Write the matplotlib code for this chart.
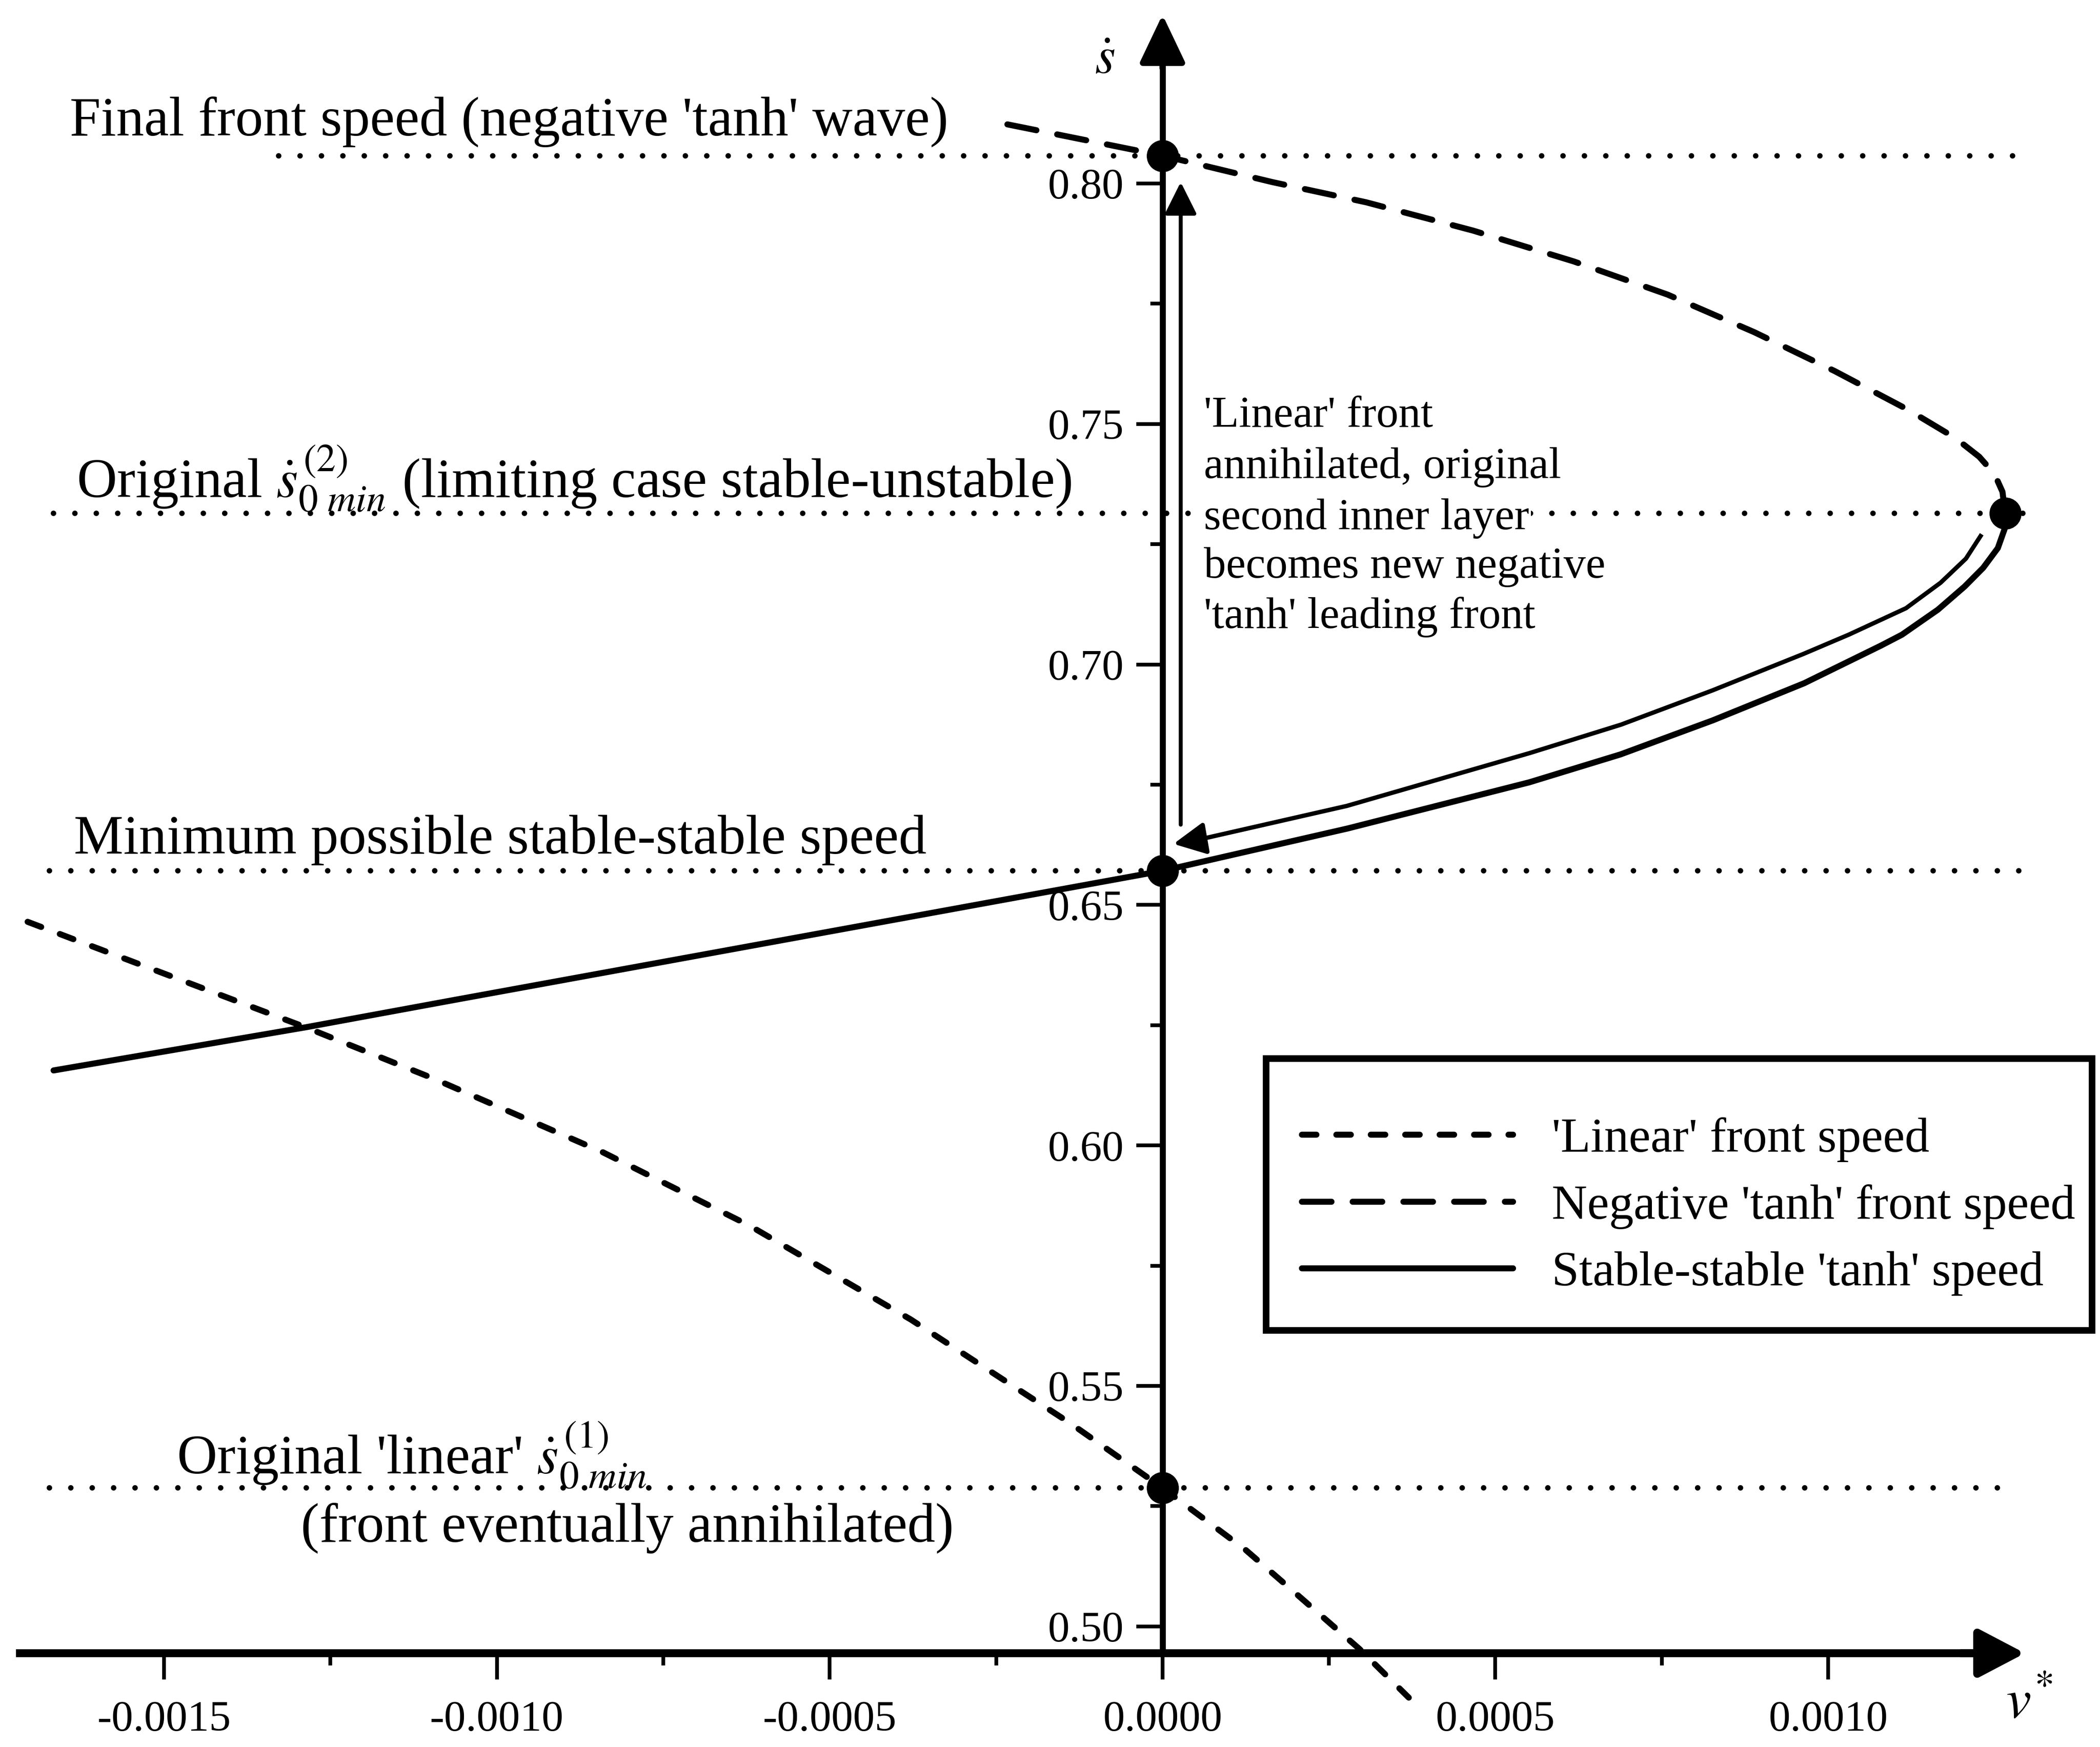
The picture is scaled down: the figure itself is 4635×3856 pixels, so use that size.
import matplotlib
matplotlib.use("Agg")
import matplotlib.pyplot as plt
from matplotlib.patches import Rectangle
from matplotlib.ticker import FixedLocator, FormatStrFormatter

plt.rcParams['font.family'] = ['Liberation Serif', 'DejaVu Serif']
plt.rcParams['mathtext.fontset'] = 'stix'
plt.rcParams['axes.unicode_minus'] = False

# ---- data -------------------------------------------------------------
# 'Linear' front speed
linear_v = [-0.001705, -0.001286, -0.001095, -0.000841, -0.000620, -0.000378,
            -0.000137, 0.0, 0.000125, 0.000195, 0.000296, 0.000370]
linear_s = [0.6465, 0.6245, 0.6139, 0.5986, 0.5833, 0.5638,
            0.5421, 0.5288, 0.5159, 0.5075, 0.4953, 0.4852]

# Negative 'tanh' front speed (upper branch ending at the turning point)
neg_v = [-0.000233, 0.0, 0.000165, 0.000306, 0.000467, 0.000618, 0.000759,
         0.000889, 0.001010, 0.001121, 0.001191, 0.001227, 0.001250,
         0.001262, 0.001266]
neg_s = [0.8123, 0.8058, 0.8003, 0.7961, 0.7902, 0.7838, 0.7769,
         0.7691, 0.7610, 0.7529, 0.7471, 0.7432, 0.7396,
         0.7359, 0.7314]

# Stable-stable 'tanh' speed (lower branch up to the turning point)
stable_v = [-0.001666, -0.001286, -0.001066, 0.0, 0.000278, 0.000551, 0.000688,
            0.000827, 0.000964, 0.001079, 0.001111, 0.001165, 0.001205,
            0.001233, 0.001255, 0.001265, 0.001266]
stable_s = [0.6156, 0.6246, 0.6302, 0.6571, 0.6659, 0.6755, 0.6813,
            0.6884, 0.6961, 0.7039, 0.7062, 0.7114, 0.7162,
            0.7201, 0.7242, 0.7281, 0.7314]

# Reference speed levels and marked points
level_s = [0.8058, 0.7314, 0.6571, 0.5288]
mark_v = [0.0, 0.001266, 0.0, 0.0]
mark_s = [0.8058, 0.7314, 0.6571, 0.5288]

# Path of the curved arrow running back down the stable-stable branch
path_v = [0.001229, 0.001207, 0.001169, 0.001117, 0.001031, 0.000963, 0.000826,
          0.000689, 0.000552, 0.000277, 0.000058, 0.0000165]
path_s = [0.7267, 0.7220, 0.7170, 0.7117, 0.7062, 0.7022, 0.6946,
          0.6875, 0.6816, 0.6706, 0.6637, 0.6627]

x_major = [-0.0015, -0.0010, -0.0005, 0.0, 0.0005, 0.0010]
x_minor = [-0.00125, -0.00075, -0.00025, 0.00025, 0.00075]
y_major = [0.50, 0.55, 0.60, 0.65, 0.70, 0.75, 0.80]
y_minor = [0.525, 0.575, 0.625, 0.675, 0.725, 0.775]

# ---- figure ------------------------------------------------------------
fig = plt.figure(figsize=(4635 / 300, 3856 / 300), dpi=300)
ax = fig.add_axes([0, 0, 1, 1])
ax.set_xlim(-0.0017465, 0.0014085)
ax.set_ylim(0.47493, 0.83816)
ax.patch.set_alpha(0)

axis_s = 0.49443      # height of the horizontal axis
x_left, x_tip = -0.0017163, 0.0012958
y_tip = 0.8351

for side in ('top', 'right'):
    ax.spines[side].set_visible(False)
ax.spines['left'].set_position(('data', 0.0))
ax.spines['bottom'].set_position(('data', axis_s))
ax.spines['left'].set_bounds(axis_s, 0.828)
ax.spines['bottom'].set_bounds(x_left, 0.00124)
ax.spines['left'].set_linewidth(3.2)
ax.spines['bottom'].set_linewidth(4.2)

ax.xaxis.set_major_locator(FixedLocator(x_major))
ax.xaxis.set_minor_locator(FixedLocator(x_minor))
ax.yaxis.set_major_locator(FixedLocator(y_major))
ax.yaxis.set_minor_locator(FixedLocator(y_minor))
ax.xaxis.set_major_formatter(FormatStrFormatter('%.4f'))
ax.yaxis.set_major_formatter(FormatStrFormatter('%.2f'))
ax.tick_params(which='major', direction='out', length=14, width=2, labelsize=23)
ax.tick_params(which='minor', direction='out', length=6.5, width=2)
ax.tick_params(axis='x', which='major', pad=11)
ax.tick_params(axis='y', which='major', pad=6.5)

# axis arrowheads
ax.annotate('', xy=(0.0, y_tip), xytext=(0.0, 0.824),
            arrowprops=dict(arrowstyle='-|>,head_length=0.42,head_width=0.2',
                            mutation_scale=52, lw=3.2, color='black',
                            shrinkA=0, shrinkB=0))
ax.annotate('', xy=(x_tip, axis_s), xytext=(0.00120, axis_s),
            arrowprops=dict(arrowstyle='-|>,head_length=0.4,head_width=0.21',
                            mutation_scale=52, lw=4.2, color='black',
                            shrinkA=0, shrinkB=0))
ax.text(-0.0000865, 0.8256, r'$\dot{s}$', fontsize=28, ha='center', va='center')
ax.text(0.0013018, 0.4838, r'$v^{*}$', fontsize=30, ha='center', va='center')

# horizontal dotted levels
level_start = [-0.001328, -0.001666, -0.001672, -0.001672]
level_end = [0.001302, 0.001302, 0.001312, 0.001282]
for s, a, b in zip(level_s, level_start, level_end):
    ax.plot([a, b], [s, s], color='black', lw=2.9,
            linestyle=(0, (0.01, 3.9)), dash_capstyle='round', zorder=2)

# curves
l1, = ax.plot(linear_v, linear_s, color='black', lw=3.2,
              linestyle=(0, (2.4, 3.3)), dash_capstyle='round', zorder=3,
              label="'Linear' front speed")
l2, = ax.plot(neg_v, neg_s, color='black', lw=3.2,
              linestyle=(0, (4.9, 3.5)), dash_capstyle='round', zorder=3,
              label="Negative 'tanh' front speed")
l3, = ax.plot(stable_v, stable_s, color='black', lw=3.2,
              solid_capstyle='round', solid_joinstyle='round', zorder=3,
              label="Stable-stable 'tanh' speed")

ax.plot(mark_v, mark_s, 'o', ms=16, color='black', zorder=6)

# arrows describing the jump of the front speed
ax.plot(path_v[:-1], path_s[:-1], color='black', lw=2.3, zorder=4,
        solid_joinstyle='round')
ax.annotate('', xy=(path_v[-1], path_s[-1]), xytext=(path_v[-2], path_s[-2]),
            arrowprops=dict(arrowstyle='-|>,head_length=0.4,head_width=0.2',
                            mutation_scale=36, lw=2.3, color='black',
                            shrinkA=0, shrinkB=0), zorder=4)
ax.annotate('', xy=(0.0000274, 0.8003), xytext=(0.0000274, 0.6667),
            arrowprops=dict(arrowstyle='-|>,head_length=0.4,head_width=0.2',
                            mutation_scale=36, lw=2.1, color='black',
                            shrinkA=0, shrinkB=0), zorder=4)

# labels of the speed levels
fs = 29.5
ax.text(-0.0016419, 0.81003, "Final front speed (negative 'tanh' wave)",
        fontsize=fs, ha='left', va='baseline')
ax.text(-0.0016318, 0.73482,
        r"Original $\dot{s}^{\,(2)}_{0\ min}$ (limiting case stable-unstable)",
        fontsize=fs, ha='left', va='baseline')
ax.text(-0.0016358, 0.66072, "Minimum possible stable-stable speed",
        fontsize=fs, ha='left', va='baseline')
ax.text(-0.0014809, 0.53176, r"Original 'linear' $\dot{s}^{\,(1)}_{0\ min}$",
        fontsize=fs, ha='left', va='baseline')
ax.text(-0.0012948, 0.51760, "(front eventually annihilated)",
        fontsize=fs, ha='left', va='baseline')

note_lines = ["'Linear' front", "annihilated, original", "second inner layer",
              "becomes new negative", "'tanh' leading front"]
note_base = [0.74944, 0.73880, 0.72816, 0.71805, 0.70760]
for t, b in zip(note_lines, note_base):
    ax.text(0.0000620, b, t, fontsize=23.5, ha='left', va='baseline', zorder=5,
            bbox=dict(facecolor='white', edgecolor='none', pad=1.0))

# legend with a heavy square frame
ax.add_patch(Rectangle((0.6027, 0.2385), 0.3935, 0.1557, transform=ax.transAxes,
                       facecolor='white', edgecolor='black', lw=3.5, zorder=7))
leg = ax.legend(handles=[l1, l2, l3], loc='upper left',
                bbox_to_anchor=(0.5918, 0.3942), fontsize=26,
                frameon=False, handlelength=4.3, handletextpad=0.8,
                borderpad=1.2, labelspacing=0.45, borderaxespad=0)
leg.set_zorder(8)

fig.savefig('out.png', dpi=300, facecolor='white')
